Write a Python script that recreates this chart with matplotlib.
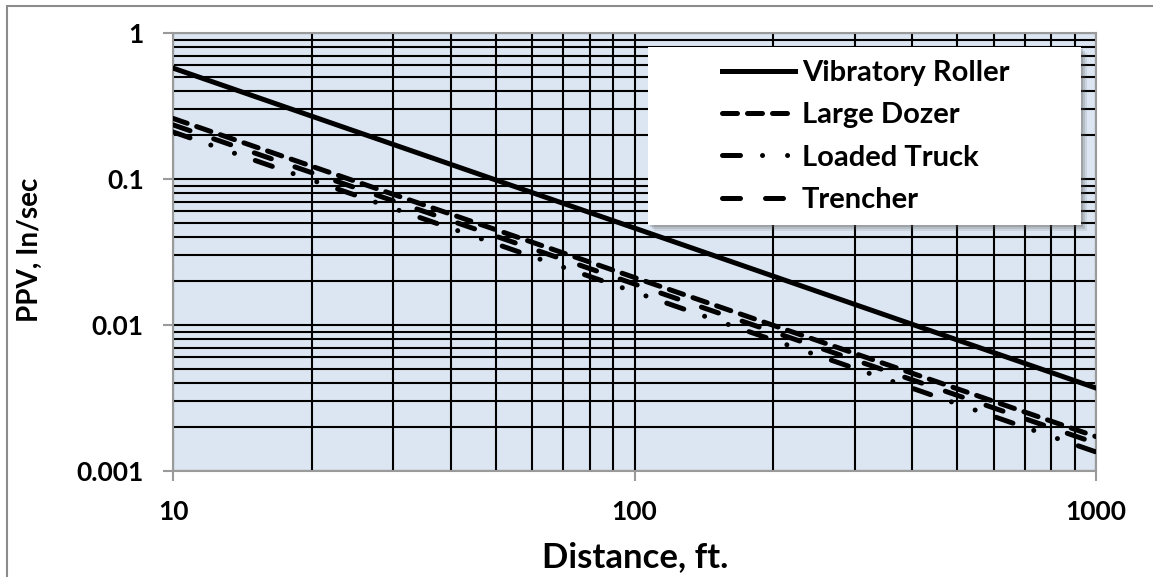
import matplotlib.pyplot as plt
from matplotlib.patches import Rectangle
from matplotlib.ticker import FixedLocator, LogLocator, NullFormatter

# endpoints (straight lines on log-log axes)
distance = [10, 1000]
roller = [0.575, 0.0037]
dozer = [0.26, 0.00172]
truck = [0.21, 0.00135]
trencher = [0.235, 0.00155]

names = ['Vibratory Roller', 'Large Dozer', 'Loaded Truck', 'Trencher']
styles = ['-', (0, (3.0, 2.0)), (0, (3.6, 4.4, 0.01, 5.0, 0.01, 4.4)), (0, (3.6, 5.0))]

plt.rcParams['font.family'] = ['Lato', 'DejaVu Sans']

W, H = 1153, 577
fig = plt.figure(figsize=(W / 100, H / 100), dpi=100)
fig.patches.append(Rectangle((7 / W, -0.1), 1.1, 1.1 - 6 / H,
                             transform=fig.transFigure, fill=False,
                             edgecolor='#8c8c8c', linewidth=1.5))
ax = fig.add_axes([173 / W, 1 - 471 / H, (1096 - 173) / W, (471 - 33) / H])
ax.set_facecolor('#dce6f2')

for y, name, ls in zip([roller, dozer, truck, trencher], names, styles):
    ax.plot(distance, y, color='black', linewidth=3.6, linestyle=ls,
            dash_capstyle='round', label=name, zorder=3)

ax.set_xscale('log')
ax.set_yscale('log')
ax.set_xlim(10, 1000)
ax.set_ylim(0.001, 1)

ax.xaxis.set_major_locator(FixedLocator([10, 100, 1000]))
ax.yaxis.set_major_locator(FixedLocator([0.001, 0.01, 0.1, 1]))
ax.xaxis.set_minor_locator(LogLocator(base=10, subs=range(2, 10)))
ax.yaxis.set_minor_locator(LogLocator(base=10, subs=range(2, 10)))
ax.xaxis.set_minor_formatter(NullFormatter())
ax.yaxis.set_minor_formatter(NullFormatter())
ax.set_xticklabels(['10', '100', '1000'])
ax.set_yticklabels(['0.001', '0.01', '0.1', '1'])

ax.grid(True, which='both', color='black', linewidth=1.5, zorder=1)
ax.set_axisbelow(True)
for side in ax.spines.values():
    side.set_color('#9a9a9a')
    side.set_linewidth(1.5)
ax.tick_params(axis='both', which='major', length=7, color='#9a9a9a', width=1.5,
               labelsize=19, pad=14)
ax.tick_params(axis='both', which='minor', length=0)
for lab in ax.get_xticklabels() + ax.get_yticklabels():
    lab.set_fontweight('bold')

fig.text(635 / W, 1 - 557 / H, 'Distance, ft.', fontsize=25, fontweight='bold',
         ha='center', va='center')
fig.text(30 / W, 1 - 250 / H, 'PPV, In/sec', fontsize=20, fontweight='bold',
         ha='center', va='center', rotation=90)

# legend box with a soft shadow, then the legend itself without a frame
for k, a in [(6, 0.12), (4, 0.18), (2, 0.25)]:
    ax.add_patch(Rectangle((648 / W + k / W, 1 - 225 / H - k / H),
                           433 / W, 178 / H, transform=fig.transFigure,
                           facecolor='#555555', edgecolor='none', alpha=a,
                           zorder=4, clip_on=False))
ax.add_patch(Rectangle((648 / W, 1 - 225 / H), 433 / W, 178 / H,
                       transform=fig.transFigure, facecolor='white',
                       edgecolor='none', zorder=5, clip_on=False))
leg = ax.legend(loc='upper left', bbox_to_anchor=(722 / W, 1 - 60 / H),
                bbox_transform=fig.transFigure, fontsize=21, frameon=False,
                handlelength=2.5, handletextpad=0.24, labelspacing=0.56,
                borderpad=0, borderaxespad=0)
leg.set_zorder(6)
for t in leg.get_texts():
    t.set_fontweight('bold')

fig.savefig('out.png', dpi=100)
